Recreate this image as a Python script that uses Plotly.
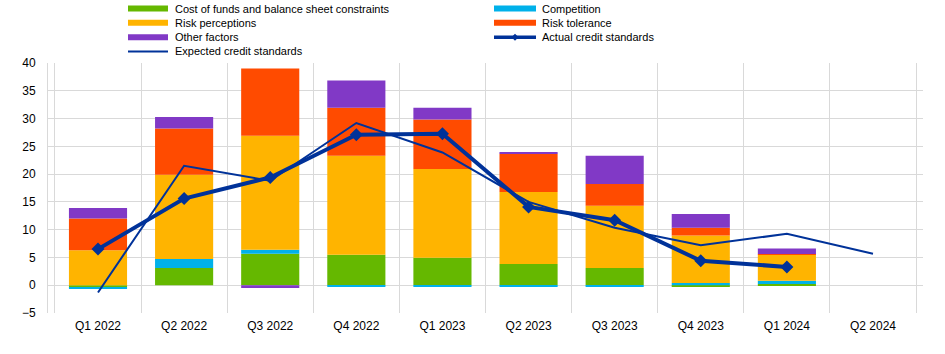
import plotly.graph_objects as go

quarters = ["Q1 2022", "Q2 2022", "Q3 2022", "Q4 2022", "Q1 2023", "Q2 2023",
            "Q3 2023", "Q4 2023", "Q1 2024", "Q2 2024"]

cost_of_funds = [-0.4, 3.1, 5.65, 5.5, 4.95, 3.8, 3.1, -0.2, 0.2, None]
competition = [-0.3, 1.6, 0.75, -0.2, -0.2, -0.2, -0.2, 0.4, 0.6, None]
risk_perceptions = [6.3, 15.2, 20.5, 17.8, 15.95, 13.0, 11.2, 8.55, 4.7, None]
risk_tolerance = [5.7, 8.3, 12.1, 8.65, 8.95, 6.85, 3.9, 1.4, 0.1, None]
other_factors = [1.9, 2.1, -0.5, 4.9, 2.1, 0.25, 5.1, 2.45, 1.0, None]
actual = [6.5, 15.6, 19.4, 27.1, 27.25, 14.1, 11.7, 4.4, 3.3, None]
expected = [-1.3, 21.5, 18.8, 29.2, 23.9, 15.0, 10.35, 7.2, 9.25, 5.65]

bar_series = [
    ("Cost of funds and balance sheet constraints", cost_of_funds, "#65B800"),
    ("Competition", competition, "#00B1EA"),
    ("Risk perceptions", risk_perceptions, "#FFB400"),
    ("Risk tolerance", risk_tolerance, "#FF4B00"),
    ("Other factors", other_factors, "#8139C6"),
]

FONT = "Liberation Sans, Arial"
NAVY = "#003299"

W, H = 945, 354
ML, MR, MT, MB = 48, 22, 63, 41
PW, PH = W - ML - MR, H - MT - MB


def px_x(px):
    return (px - ML) / PW


def px_y(py):
    return (H - MB - py) / PH


fig = go.Figure()
for name, vals, col in bar_series:
    fig.add_trace(go.Bar(x=quarters, y=vals, name=name, marker_color=col,
                         marker_line_width=0))

fig.add_trace(go.Scatter(x=quarters, y=actual, name="Actual credit standards",
                         mode="lines+markers",
                         line=dict(color=NAVY, width=4),
                         marker=dict(symbol="diamond", size=10, color=NAVY)))
fig.add_trace(go.Scatter(x=quarters, y=expected, name="Expected credit standards",
                         mode="lines", line=dict(color=NAVY, width=2)))

# manual legend (two columns, tight rows)
legend_items = [
    ("Cost of funds and balance sheet constraints", "#65B800", "bar", 0, 0),
    ("Competition", "#00B1EA", "bar", 1, 0),
    ("Risk perceptions", "#FFB400", "bar", 0, 1),
    ("Risk tolerance", "#FF4B00", "bar", 1, 1),
    ("Other factors", "#8139C6", "bar", 0, 2),
    ("Actual credit standards", NAVY, "actual", 1, 2),
    ("Expected credit standards", NAVY, "expected", 0, 3),
]
col_x = [(128, 168, 173), (494, 536, 540)]
row_y = [8.5, 22.8, 37.2, 51.5]
shapes = []
annotations = []
for text, col, kind, c, r in legend_items:
    x0, x1, xt = col_x[c]
    y = row_y[r]
    if kind == "bar":
        lw = 6
    elif kind == "actual":
        lw = 3.5
    else:
        lw = 2
    shapes.append(dict(type="line", xref="paper", yref="paper",
                       x0=px_x(x0), x1=px_x(x1), y0=px_y(y), y1=px_y(y),
                       line=dict(color=col, width=lw)))
    if kind == "actual":
        cx = (x0 + x1) / 2
        d = 3.5
        path = "M{},{} L{},{} L{},{} L{},{} Z".format(
            px_x(cx - d), px_y(y), px_x(cx), px_y(y - d),
            px_x(cx + d), px_y(y), px_x(cx), px_y(y + d))
        shapes.append(dict(type="path", xref="paper", yref="paper", path=path,
                           fillcolor=col, line=dict(color=col, width=0)))
    annotations.append(dict(text=text, xref="paper", yref="paper",
                            x=px_x(xt), y=px_y(y), xanchor="left", yanchor="middle",
                            showarrow=False, font=dict(size=11, color="#000000")))

fig.update_layout(
    width=W, height=H,
    margin=dict(l=ML, r=MR, t=MT, b=MB),
    barmode="relative", bargap=0.325,
    plot_bgcolor="white", paper_bgcolor="white",
    font=dict(family=FONT, size=12, color="#000000"),
    showlegend=False,
    shapes=shapes,
    annotations=annotations,
)
fig.update_xaxes(type="category", tickson="boundaries", showgrid=True,
                 gridcolor="#d9d9d9", gridwidth=1, ticks="", showline=False,
                 zeroline=False, tickfont=dict(size=12), ticklabelstandoff=4)
fig.update_yaxes(range=[-5, 40], dtick=5, tick0=0, showgrid=True, gridcolor="#d9d9d9",
                 gridwidth=1, zeroline=False, showline=True, linecolor="#d9d9d9",
                 ticks="", ticklabelstandoff=9)

fig.write_html("out.html")
